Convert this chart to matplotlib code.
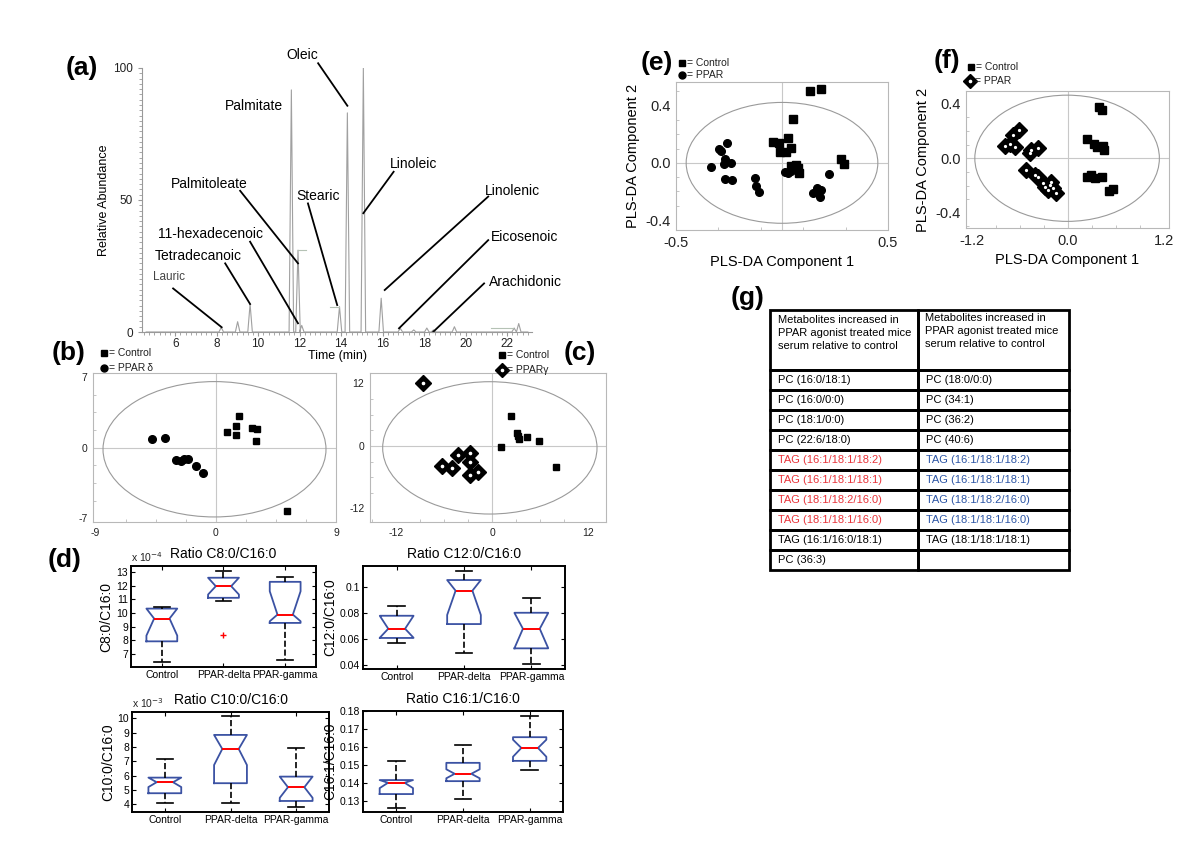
import matplotlib
matplotlib.use("Agg")
import matplotlib.pyplot as plt
from matplotlib.patches import Ellipse, Rectangle
from matplotlib.lines import Line2D
from matplotlib.ticker import MultipleLocator, FuncFormatter

plt.rcParams['font.family'] = ['Liberation Sans', 'DejaVu Sans']
plt.rcParams['axes.unicode_minus'] = False

# ---------------- data ----------------
# (a) GC chromatogram: retention time (min) and relative abundance of each peak
peak_time = [8.22, 9.01, 9.61, 11.60, 11.92, 12.10, 13.92, 14.30, 15.07, 15.93,
             16.85, 17.50, 18.13, 18.45, 19.46, 22.34, 22.56]
peak_height = [1.8, 3.9, 10.6, 91.7, 31.0, 2.5, 9.6, 83.0, 100.0, 12.8,
               1.4, 0.8, 1.5, 0.8, 2.0, 1.5, 3.2]
shelf_start = [11.92, 13.45, 21.20]
shelf_end = [12.32, 13.90, 22.30]
shelf_level = [31.0, 9.6, 1.6]
peak_names = ['Oleic', 'Palmitate', 'Linoleic', 'Palmitoleate', 'Stearic', 'Linolenic',
              '11-hexadecenoic', 'Eicosenoic', 'Tetradecanoic', 'Lauric', 'Arachidonic']

# (b) PLS-DA scores, PPAR delta vs control
b_ctrl_x = [1.71, 1.48, 0.82, 1.51, 2.74, 3.08, 3.02, 5.36]
b_ctrl_y = [3.18, 2.18, 1.55, 1.26, 1.95, 1.85, 0.66, -6.26]
b_ppar_x = [-4.75, -3.78, -2.96, -2.63, -2.36, -2.05, -1.45, -0.96]
b_ppar_y = [0.89, 0.96, -1.19, -1.36, -1.13, -1.13, -1.85, -2.51]

# (c) PLS-DA scores, PPAR gamma vs control
c_ctrl_x = [2.36, 3.15, 3.28, 3.37, 4.30, 5.83, 1.07, 7.99]
c_ctrl_y = [5.82, 2.56, 1.92, 1.28, 1.79, 1.02, -0.13, -3.97]
c_ppar_x = [-8.63, -4.24, -2.77, -6.23, -4.93, -2.77, -1.80, -2.77]
c_ppar_y = [12.15, -1.73, -1.41, -3.84, -4.29, -3.13, -4.93, -5.57]

# (d) box plot statistics per group: [whislo, q1, cilo, median, cihi, q3, whishi]
groups = ['Control', 'PPAR-delta', 'PPAR-gamma']
c8_stats = [[6.38e-4, 7.93e-4, 8.35e-4, 9.60e-4, 10.33e-4, 10.33e-4, 10.46e-4],
            [10.92e-4, 11.12e-4, 11.36e-4, 11.97e-4, 12.59e-4, 12.59e-4, 13.12e-4],
            [6.53e-4, 9.28e-4, 9.40e-4, 9.89e-4, 11.60e-4, 12.29e-4, 12.66e-4]]
c8_fliers = [[], [8.42e-4], []]
c12_stats = [[0.0572, 0.0608, 0.0610, 0.0679, 0.0778, 0.0779, 0.0854],
             [0.0495, 0.0715, 0.0785, 0.0972, 0.1054, 0.1054, 0.1123],
             [0.0408, 0.0528, 0.0530, 0.0679, 0.0800, 0.0802, 0.0918]]
c10_stats = [[4.07e-3, 4.77e-3, 5.20e-3, 5.54e-3, 5.86e-3, 5.86e-3, 7.14e-3],
             [4.11e-3, 5.47e-3, 6.74e-3, 7.86e-3, 8.84e-3, 8.84e-3, 10.16e-3],
             [3.83e-3, 4.23e-3, 4.45e-3, 5.19e-3, 5.93e-3, 5.93e-3, 7.91e-3]]
c16_stats = [[0.1258, 0.1337, 0.1370, 0.1400, 0.1415, 0.1415, 0.1522],
             [0.1310, 0.1409, 0.1425, 0.1450, 0.1475, 0.1511, 0.1610],
             [0.1469, 0.1522, 0.1545, 0.1594, 0.1640, 0.1654, 0.1774]]

# (e) PLS-DA, all PPAR vs control
e_ctrl_x = [0.134, 0.186, 0.052, -0.042, -0.014, 0.028, 0.044, -0.011, 0.021,
            0.280, 0.293, 0.068, 0.075, 0.079, 0.044]
e_ctrl_y = [0.504, 0.515, 0.308, 0.147, 0.140, 0.175, 0.101, 0.073, 0.073,
            0.024, -0.011, -0.016, -0.039, -0.074, -0.023]
e_ppar_x = [-0.336, -0.299, -0.289, -0.258, -0.270, -0.275, -0.242, -0.270, -0.234,
            -0.129, -0.125, -0.108, 0.016, 0.028, 0.044, 0.060, 0.146, 0.167,
            0.186, 0.178, 0.162, 0.222]
e_ppar_y = [-0.032, 0.096, 0.082, 0.136, 0.026, -0.009, -0.004, -0.116, -0.121,
            -0.109, -0.163, -0.203, -0.063, -0.070, -0.056, -0.028, -0.214, -0.175,
            -0.191, -0.242, -0.203, -0.081]

# (f) PLS-DA, PPAR gamma vs control
f_ctrl_x = [0.382, 0.423, 0.236, 0.320, 0.361, 0.435, 0.456, 0.236, 0.291, 0.332,
            0.423, 0.506, 0.560]
f_ctrl_y = [0.377, 0.357, 0.141, 0.104, 0.080, 0.090, 0.061, -0.139, -0.122, -0.141,
            -0.134, -0.239, -0.226]
f_ppar_x = [-0.609, -0.684, -0.787, -0.725, -0.663, -0.455, -0.373, -0.476, -0.518,
            -0.414, -0.373, -0.290, -0.228, -0.187, -0.144, -0.207, -0.249, -0.311]
f_ppar_y = [0.207, 0.170, 0.090, 0.104, 0.080, 0.061, 0.073, 0.036, -0.085,
            -0.122, -0.134, -0.207, -0.195, -0.219, -0.251, -0.171, -0.231, -0.182]

# (g) table
table_header = ['Metabolites increased in\nPPAR agonist treated mice\nserum relative to control',
                'Metabolites increased in\nPPAR agonist treated mice\nserum relative to control']
table_col1 = ['PC (16:0/18:1)', 'PC (16:0/0:0)', 'PC (18:1/0:0)', 'PC (22:6/18:0)',
              'TAG (16:1/18:1/18:2)', 'TAG (16:1/18:1/18:1)', 'TAG (18:1/18:2/16:0)',
              'TAG (18:1/18:1/16:0)', 'TAG (16:1/16:0/18:1)', 'PC (36:3)']
table_col2 = ['PC (18:0/0:0)', 'PC (34:1)', 'PC (36:2)', 'PC (40:6)',
              'TAG (16:1/18:1/18:2)', 'TAG (16:1/18:1/18:1)', 'TAG (18:1/18:2/16:0)',
              'TAG (18:1/18:1/16:0)', 'TAG (18:1/18:1/18:1)', '']
highlight_rows = [4, 5, 6, 7]

# ---------------- layout helpers ----------------
W, H = 1200, 852
fig = plt.figure(figsize=(12, 8.52), dpi=100)


def add_ax(l, t, r, b):
    return fig.add_axes([l / W, 1 - b / H, (r - l) / W, (b - t) / H])


def fig_text(x, y, s, **kw):
    fig.text(x / W, 1 - y / H, s, **kw)


def key(px, py, marker, ms, label, dot=False, fs=7.5):
    fig.add_artist(Line2D([px / W], [1 - py / H], marker=marker, ms=ms, color='k',
                          transform=fig.transFigure))
    if dot:
        fig.add_artist(Line2D([px / W], [1 - py / H], marker='o', ms=1.6, color='w',
                              transform=fig.transFigure))
    fig_text(px + 5, py, label, fontsize=fs, va='center', ha='left', color='#222')


for lab, x, y in [('(a)', 82, 68), ('(b)', 69, 353), ('(c)', 580, 353), ('(d)', 65, 560),
                  ('(e)', 657, 63), ('(f)', 947, 61), ('(g)', 748, 298)]:
    fig_text(x, y, lab, fontsize=19, fontweight='bold', ha='center', va='center')

# ---------------- (a) chromatogram ----------------
ax = add_ax(142, 68, 532, 332)
xs, ys = [4.6], [0.0]
for t, h in sorted(zip(peak_time, peak_height)):
    xs += [t - 0.11, t, t + 0.11]
    ys += [0.0, h, 0.0]
xs.append(23.0)
ys.append(0.0)
ax.plot(xs, ys, color='#a0a0a0', lw=0.8)
for x0, x1, yl in zip(shelf_start, shelf_end, shelf_level):
    ax.plot([x0, x1], [yl, yl], color='#b5c2b5', lw=0.8)

label_pos = [(12.14, 104.9), (9.79, 85.7), (17.48, 63.6), (7.63, 56.0), (12.87, 51.4),
             (22.25, 53.5), (7.72, 37.1), (22.85, 36.0), (7.12, 28.9), (5.69, 20.7),
             (22.87, 19.1)]
leaders = [((12.89, 101.8), (14.30, 85.7)), None, ((16.53, 60.7), (15.07, 45.0)),
           ((9.13, 53.5), (11.92, 26.0)), ((12.40, 48.7), (13.81, 10.2)),
           ((21.09, 51.3), (16.10, 15.9)), ((9.61, 34.2), (11.92, 3.3)),
           ((21.09, 34.8), (16.79, 1.4)), ((8.41, 26.0), (9.61, 10.6)),
           ((5.90, 16.5), (8.24, 1.8)), ((20.89, 18.4), (18.43, 0.0))]
for name, (tx, ty), ld in zip(peak_names, label_pos, leaders):
    small = name == 'Lauric'
    ax.text(tx, ty, name, ha='center', va='center', fontsize=8.5 if small else 10,
            color='#444' if small else 'k', clip_on=False)
    if ld is not None:
        ax.plot([ld[0][0], ld[1][0]], [ld[0][1], ld[1][1]], color='k', lw=1.3,
                clip_on=False)

ax.set_xlim(4.4, 23.2)
ax.set_ylim(0, 100)
ax.set_xticks(range(6, 23, 2))
ax.set_yticks([0, 50, 100])
ax.xaxis.set_minor_locator(MultipleLocator(0.25))
ax.yaxis.set_minor_locator(MultipleLocator(2))
for s in ['top', 'right']:
    ax.spines[s].set_visible(False)
for s in ['left', 'bottom']:
    ax.spines[s].set_color('#999')
    ax.spines[s].set_linewidth(0.8)
ax.tick_params(which='both', colors='#999', labelcolor='#222', labelsize=8.5)
ax.tick_params(which='minor', length=2)
ax.tick_params(which='major', length=3)
ax.tick_params(axis='x', pad=1)
ax.set_xlabel('Time (min)', fontsize=9, labelpad=0)
ax.set_ylabel('Relative Abundance', fontsize=9, labelpad=2)


# ---------------- score plot helper ----------------
def score_axes(ax, xlim, ylim, xticks, yticks, fs, fmt=None):
    ax.set_xlim(xlim)
    ax.set_ylim(ylim)
    ax.axhline(0, color='#c8c8c8', lw=0.8, zorder=0)
    ax.axvline(0, color='#c8c8c8', lw=0.8, zorder=0)
    for s in ax.spines.values():
        s.set_color('#b8b8b8')
        s.set_linewidth(0.8)
    ax.set_xticks(xticks)
    ax.set_yticks(yticks)
    if fmt:
        ax.xaxis.set_major_formatter(FuncFormatter(lambda v, p: fmt % v))
        ax.yaxis.set_major_formatter(FuncFormatter(lambda v, p: fmt % v))
    ax.minorticks_on()
    ax.tick_params(which='major', length=0, labelsize=fs, labelcolor='#222', pad=4)
    ax.tick_params(which='minor', direction='in', length=2, color='#bbb')


# (b)
ax = add_ax(93, 373, 336, 522)
score_axes(ax, (-9.2, 9.0), (-7.35, 7.4), [-9, 0, 9], [-7, 0, 7], 7.5)
ax.add_patch(Ellipse((-0.1, -0.15), 16.7, 13.4, fill=False, ec='#9a9a9a', lw=0.8))
ax.plot(b_ctrl_x, b_ctrl_y, 's', color='k', ms=5)
ax.plot(b_ppar_x, b_ppar_y, 'o', color='k', ms=5.5)
key(104, 353, 's', 4.5, '= Control')
key(104, 368, 'o', 5, '= PPAR\u2009\u03b4')

# (c)
ax = add_ax(370, 373, 606, 522)
score_axes(ax, (-15.2, 14.2), (-14.6, 14.0), [-12, 0, 12], [-12, 0, 12], 7.5)
ax.add_patch(Ellipse((-0.27, -0.37), 26.7, 25.4, fill=False, ec='#9a9a9a', lw=0.8))
ax.plot(c_ctrl_x, c_ctrl_y, 's', color='k', ms=5)
ax.plot(c_ppar_x, c_ppar_y, 'D', color='k', ms=8)
ax.plot(c_ppar_x, c_ppar_y, 'o', color='w', ms=1.6)
key(502, 355, 's', 4.5, '= Control')
key(502, 370, 'D', 7, '= PPAR\u03b3', dot=True)


# ---------------- (d) box plots ----------------
def box_panel(rect, stats, fliers, ylim, yticks, title, ylabel, scale=None):
    ax = add_ax(*rect)
    bx = []
    for row, fl in zip(stats, fliers):
        bx.append(dict(whislo=row[0], q1=row[1], cilo=row[2], med=row[3], cihi=row[4],
                       q3=row[5], whishi=row[6], fliers=fl))
    ax.bxp(bx, positions=[1, 2, 3], widths=0.5, shownotches=True, showfliers=True,
           boxprops=dict(color='#3b52a3', lw=1.3),
           medianprops=dict(color='red', lw=1.4),
           whiskerprops=dict(color='k', ls='--', lw=1.2),
           capprops=dict(color='k', lw=1.2),
           flierprops=dict(marker='+', markeredgecolor='red', ms=4, ls='none'))
    ax.set_xlim(0.5, 3.5)
    ax.set_ylim(ylim)
    ax.set_xticks([1, 2, 3])
    ax.set_xticklabels(groups, fontsize=7.5)
    ax.set_yticks(yticks)
    if scale:
        ax.yaxis.set_major_formatter(FuncFormatter(lambda v, p: '%g' % round(v / scale, 6)))
        exp = {1e-4: '-4', 1e-3: '-3'}[scale]
        ax.text(0.0, 1.015, 'x 10$^{%s}$' % exp, transform=ax.transAxes, fontsize=7.5,
                ha='left', va='bottom', color='#222')
    else:
        ax.yaxis.set_major_formatter(FuncFormatter(lambda v, p: '%g' % round(v, 6)))
    ax.tick_params(direction='in', top=True, right=True, length=3, labelsize=7.5, pad=2)
    for s in ax.spines.values():
        s.set_linewidth(1.4)
    ax.set_title(title, fontsize=10, pad=6)
    ax.set_ylabel(ylabel, fontsize=10, labelpad=2)
    return ax


box_panel((131, 566, 316, 667), c8_stats, c8_fliers, (6.05e-4, 13.45e-4),
          [7e-4, 8e-4, 9e-4, 10e-4, 11e-4, 12e-4, 13e-4], 'Ratio C8:0/C16:0', 'C8:0/C16:0',
          scale=1e-4)
box_panel((363, 566, 565, 669), c12_stats, [[], [], []], (0.0369, 0.1162),
          [0.04, 0.06, 0.08, 0.1], 'Ratio C12:0/C16:0', 'C12:0/C16:0')
box_panel((132, 712, 329, 812), c10_stats, [[], [], []], (3.46e-3, 10.44e-3),
          [4e-3, 5e-3, 6e-3, 7e-3, 8e-3, 9e-3, 10e-3], 'Ratio C10:0/C16:0', 'C10:0/C16:0',
          scale=1e-3)
box_panel((363, 711, 563, 812), c16_stats, [[], [], []], (0.1237, 0.18),
          [0.13, 0.14, 0.15, 0.16, 0.17, 0.18], 'Ratio C16:1/C16:0', 'C16:1/C16:0')

# ---------------- (e) ----------------
ax = add_ax(676, 82, 888, 230)
score_axes(ax, (-0.5, 0.5), (-0.47, 0.566), [-0.5, 0.5], [-0.4, 0.0, 0.4], 10.5, fmt='%.1f')
ax.add_patch(Ellipse((0, 0), 0.904, 0.846, fill=False, ec='#9a9a9a', lw=0.8))
ax.plot(e_ctrl_x, e_ctrl_y, 's', color='k', ms=5.5)
ax.plot(e_ppar_x, e_ppar_y, 'o', color='k', ms=5.5)
ax.set_xlabel('PLS-DA Component 1', fontsize=10.5, labelpad=4)
ax.set_ylabel('PLS-DA Component 2', fontsize=10.5, labelpad=4)
key(682, 63, 's', 4.5, '= Control')
key(682, 75, 'o', 5, '= PPAR')

# ---------------- (f) ----------------
ax = add_ax(966, 91, 1169, 228)
score_axes(ax, (-1.27, 1.26), (-0.511, 0.493), [-1.2, 0.0, 1.2], [-0.4, 0.0, 0.4], 10.5,
           fmt='%.1f')
ax.add_patch(Ellipse((-0.01, 0), 2.3, 0.925, fill=False, ec='#9a9a9a', lw=0.8))
ax.plot(f_ctrl_x, f_ctrl_y, 's', color='k', ms=5.5)
ax.plot(f_ppar_x, f_ppar_y, 'D', color='k', ms=8.5)
ax.plot(f_ppar_x, f_ppar_y, 'o', color='w', ms=1.3)
ax.set_xlabel('PLS-DA Component 1', fontsize=10.5, labelpad=4)
ax.set_ylabel('PLS-DA Component 2', fontsize=10.5, labelpad=4)
key(971, 67, 's', 4.5, '= Control')
key(970, 81, 'D', 7, '= PPAR', dot=True)

# ---------------- (g) table ----------------
ax = add_ax(770, 310, 1069, 573)
ax.set_xlim(0, 299)
ax.set_ylim(263, 0)
ax.axis('off')
col_x = [0, 148, 299]
row_y = [0, 60] + [60 + 20 * (i + 1) for i in range(len(table_col1))]
for i in range(len(row_y) - 1):
    for j in range(2):
        ax.add_patch(Rectangle((col_x[j], row_y[i]), col_x[j + 1] - col_x[j],
                               row_y[i + 1] - row_y[i], fill=False, ec='k', lw=2.0,
                               clip_on=False))
ax.text(8, 5, table_header[0], fontsize=8, va='top', ha='left', linespacing=1.35)
ax.text(155, 3, table_header[1], fontsize=8, va='top', ha='left', linespacing=1.35)
for i, (a, b) in enumerate(zip(table_col1, table_col2)):
    yc = 60 + 20 * i + 10
    ca = '#e8343a' if i in highlight_rows else 'k'
    cb = '#2c55a5' if i in highlight_rows else 'k'
    ax.text(8, yc, a, fontsize=8, va='center', ha='left', color=ca)
    ax.text(156, yc, b, fontsize=8, va='center', ha='left', color=cb)

fig.savefig('out.png', dpi=100)
